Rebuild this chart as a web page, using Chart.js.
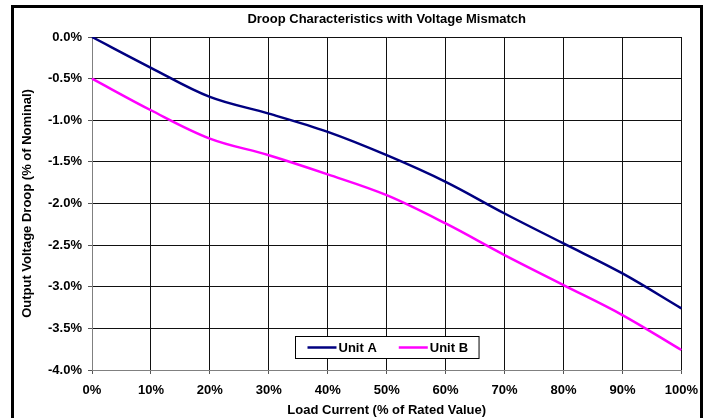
<!DOCTYPE html>
<html>
<head>
<meta charset="utf-8">
<script src="https://cdn.jsdelivr.net/npm/chart.js@4.4.0/dist/chart.umd.min.js"></script>
<style>
  html, body { margin: 0; padding: 0; background: #fff; overflow: hidden; }
  #wrap { position: relative; width: 707px; height: 418px; }
</style>
</head>
<body>
<div id="wrap"><canvas id="droopChart"></canvas></div>
<script>
// Load current (% of rated) and droop (% of nominal)
const loadLabels = ['0%', '10%', '20%', '30%', '40%', '50%', '60%', '70%', '80%', '90%', '100%'];
const unitA = [0.0, -0.37, -0.72, -0.92, -1.14, -1.42, -1.74, -2.12, -2.48, -2.84, -3.26];
const unitB = [-0.5, -0.88, -1.22, -1.42, -1.65, -1.90, -2.24, -2.62, -2.98, -3.34, -3.76];

const chartTitle = 'Droop Characteristics with Voltage Mismatch';
const FONT = 'Arial, "Liberation Sans", sans-serif';

// white background, outer frame, title and the in-plot legend
const framePlugin = {
    id: 'frame',
    beforeDraw(chart) {
        const ctx = chart.ctx;
        ctx.save();
        ctx.fillStyle = '#fff';
        ctx.fillRect(0, 0, chart.width, chart.height);
        ctx.restore();
    },
    afterDraw(chart) {
        const ctx = chart.ctx;
        const area = chart.chartArea;
        ctx.save();

        // outer frame
        ctx.strokeStyle = '#000';
        ctx.lineWidth = 3;
        ctx.strokeRect(12.5, 6.5, 689, 500);

        // title
        ctx.fillStyle = '#000';
        ctx.font = 'bold 13px ' + FONT;
        ctx.textAlign = 'center';
        ctx.textBaseline = 'middle';
        ctx.fillText(chartTitle, (area.left + area.right) / 2, 19);

        // legend box
        const sets = chart.data.datasets;
        const sample = 29, gapText = 2, gapItem = 22, padL = 12, padR = 11;
        let w = padL + padR;
        sets.forEach((ds, i) => {
            w += sample + gapText + ctx.measureText(ds.label).width;
            if (i < sets.length - 1) w += gapItem;
        });
        const h = 22;
        const bx = Math.round((area.left + area.right) / 2 - w / 2) + 0.5;
        const by = Math.round(area.bottom - 12 - h) + 0.5;
        ctx.fillStyle = '#fff';
        ctx.fillRect(bx, by, w, h);
        ctx.strokeStyle = '#000';
        ctx.lineWidth = 1;
        ctx.strokeRect(bx, by, w, h);

        let x = bx + padL;
        const cy = by + h / 2;
        ctx.textAlign = 'left';
        sets.forEach(ds => {
            ctx.strokeStyle = ds.borderColor;
            ctx.lineWidth = ds.borderWidth;
            ctx.beginPath();
            ctx.moveTo(x, cy);
            ctx.lineTo(x + sample, cy);
            ctx.stroke();
            x += sample + gapText;
            ctx.fillStyle = '#000';
            ctx.fillText(ds.label, x, cy + 0.5);
            x += ctx.measureText(ds.label).width + gapItem;
        });
        ctx.restore();
    }
};

const ctx = document.getElementById('droopChart').getContext('2d');

new Chart(ctx, {
    type: 'line',
    data: {
        labels: loadLabels,
        datasets: [
            {
                label: 'Unit A',
                data: unitA,
                borderColor: '#000080',
                borderWidth: 2.5,
                pointRadius: 0,
                tension: 0.35,
                fill: false
            },
            {
                label: 'Unit B',
                data: unitB,
                borderColor: '#FF00FF',
                borderWidth: 2.5,
                pointRadius: 0,
                tension: 0.35,
                fill: false
            }
        ]
    },
    options: {
        responsive: true,
        maintainAspectRatio: false,
        animation: false,
        layout: {
            padding: { top: 37, right: 24, bottom: 0, left: 0 }
        },
        plugins: {
            legend: { display: false },
            title: { display: false },
            tooltip: { enabled: false }
        },
        scales: {
            x: {
                offset: false,
                grid: {
                    color: '#111',
                    lineWidth: 1,
                    tickLength: 4,
                    tickColor: '#555'
                },
                border: { color: '#808080', width: 1 },
                ticks: {
                    color: '#000',
                    font: { family: FONT, size: 13, weight: 'bold' },
                    padding: 9,
                    maxRotation: 0,
                    autoSkip: false
                },
                title: {
                    display: true,
                    text: 'Load Current (% of Rated Value)',
                    color: '#000',
                    font: { family: FONT, size: 13, weight: 'bold' },
                    padding: { top: 0, bottom: 0 }
                },
                afterFit(scale) { scale.height = 48; }
            },
            y: {
                min: -4,
                max: 0,
                grid: {
                    color: '#111',
                    lineWidth: 1,
                    tickLength: 4,
                    tickColor: '#555'
                },
                border: { color: '#808080', width: 1 },
                ticks: {
                    stepSize: 0.5,
                    color: '#000',
                    font: { family: FONT, size: 13, weight: 'bold' },
                    padding: 6,
                    callback: v => v.toFixed(1) + '%'
                },
                title: {
                    display: true,
                    text: 'Output Voltage Droop (% of Nominal)',
                    color: '#000',
                    font: { family: FONT, size: 13, weight: 'bold' },
                    padding: { top: 20, bottom: 0 }
                },
                afterFit(scale) { scale.width = 92; }
            }
        }
    },
    plugins: [framePlugin]
});
</script>
</body>
</html>
